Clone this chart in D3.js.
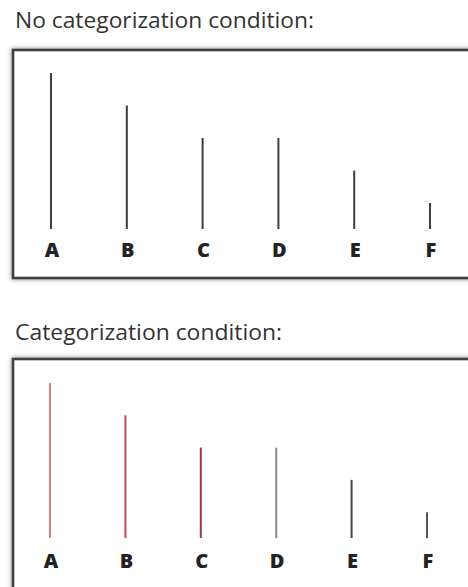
<!DOCTYPE html>
<html><head><meta charset="utf-8">
<script src="https://cdn.jsdelivr.net/npm/d3@7"></script>
<style>body{margin:0;background:#fff;}svg{display:block;}</style>
</head><body>
<script>
const categories = ["A","B","C","D","E","F"];
const values = [4.8, 3.8, 2.8, 2.8, 1.8, 0.8];
const titles = ["No categorization condition:", "Categorization condition:"];
const colorsTop = ["#3d3d3d","#3d3d3d","#3d3d3d","#3d3d3d","#3d3d3d","#3d3d3d"];
const colorsBottom = ["#e07a82","#c44a58","#9e3a48","#8a8a8a","#444444","#555555"];

const W = 468, H = 587;
const svg = d3.select("body").append("svg").attr("width", W).attr("height", H);
const defs = svg.append("defs");
const f = defs.append("filter").attr("id","sh").attr("x","-10%").attr("y","-10%").attr("width","120%").attr("height","120%");
f.append("feDropShadow").attr("dx",0).attr("dy",0).attr("stdDeviation",2.5).attr("flood-color","#000").attr("flood-opacity",0.45);

const panels = [
  {title: titles[0], titleY: 28, titleW: 299, boxTop: 50, boxBottom: 278, lineTop: 73, base: 229, labelY: 257, x0: 51, x1: 430, colors: colorsTop},
  {title: titles[1], titleY: 340, titleW: 267, boxTop: 359, boxBottom: 600, lineTop: 383, base: 538, labelY: 568, x0: 50, x1: 427, colors: colorsBottom}
];

panels.forEach(p => {
  svg.append("text").attr("x", 15).attr("y", p.titleY)
    .attr("font-family", "'Open Sans', sans-serif").attr("font-size", 21)
    .attr("fill", "#333").attr("textLength", p.titleW)
    .attr("lengthAdjust", "spacingAndGlyphs")
    .text(p.title);
  svg.append("rect").attr("x", 13).attr("y", p.boxTop)
    .attr("width", 470).attr("height", p.boxBottom - p.boxTop)
    .attr("fill", "#fff").attr("stroke", "#3f3f3f").attr("stroke-width", 2.6)
    .attr("filter", "url(#sh)");
  const x = d3.scalePoint().domain(categories).range([p.x0, p.x1]);
  const y = d3.scaleLinear().domain([0, d3.max(values)]).range([p.base, p.lineTop]);
  const g = svg.append("g");
  g.selectAll("line").data(values).join("line")
    .attr("x1", (d,i) => x(categories[i])).attr("x2", (d,i) => x(categories[i]))
    .attr("y1", y(0)).attr("y2", d => y(d))
    .attr("stroke", (d,i) => p.colors[i]).attr("stroke-width", 2);
  g.selectAll("text").data(categories).join("text")
    .attr("x", d => x(d) + 1).attr("y", p.labelY)
    .attr("text-anchor", "middle")
    .attr("font-family", "'Open Sans', sans-serif").attr("font-weight", 800)
    .attr("font-size", 20).attr("fill", "#222")
    .text(d => d);
});
</script>
</body></html>
